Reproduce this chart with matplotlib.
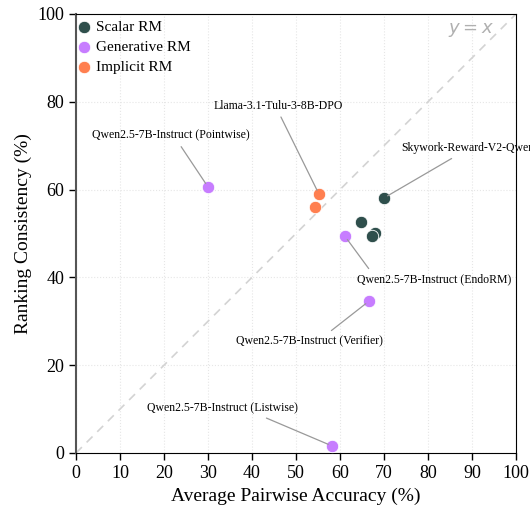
import matplotlib.pyplot as plt
import matplotlib

plt.rcParams['font.family'] = ['Liberation Serif', 'DejaVu Serif']
plt.rcParams['mathtext.fontset'] = 'dejavusans'

# data: (accuracy, consistency)
scalar_x = [70.0, 64.8, 68.0, 67.2]
scalar_y = [58.1, 52.6, 50.1, 49.4]
gen_x = [30.0, 61.1, 66.6, 58.2]
gen_y = [60.6, 49.4, 34.6, 1.6]
impl_x = [55.2, 54.3]
impl_y = [59.0, 56.0]

# labelled points: name, point, text position, alignment, where the leader leaves the text
labels = [
    ("Qwen2.5-7B-Instruct (Pointwise)", (30.0, 60.6), (21.5, 72.3), "center", 0.52),
    ("Llama-3.1-Tulu-3-8B-DPO", (55.2, 59.0), (45.9, 79.1), "center", 0.48),
    ("Skywork-Reward-V2-Qwen3-8B", (70.0, 58.1), (74.0, 69.4), "left", 0.43),
    ("Qwen2.5-7B-Instruct (EndoRM)", (61.1, 49.4), (63.8, 39.5), "left", 0.13),
    ("Qwen2.5-7B-Instruct (Verifier)", (66.6, 34.6), (53.0, 25.5), "center", 0.56),
    ("Qwen2.5-7B-Instruct (Listwise)", (58.2, 1.6), (33.2, 10.2), "center", 0.64),
]

c_scalar = '#2f4f4c'
c_gen = '#c77dff'
c_impl = '#ff7f50'

fig = plt.figure(figsize=(5.3, 5.14), dpi=100)
ax = fig.add_axes([0.1434, 0.1187, 0.8302, 0.8541])

ax.plot([0, 100], [0, 100], ls=(0, (5, 4)), color='#d3d3d3', lw=1.2, zorder=1)
ax.text(95, 98.3, '$y = x$', color='#b0b0b0', fontsize=13, ha='right', va='top')

ax.scatter(scalar_x, scalar_y, s=80, color=c_scalar, edgecolor='white', linewidth=0.6, label='Scalar RM', zorder=3)
ax.scatter(gen_x, gen_y, s=80, color=c_gen, edgecolor='white', linewidth=0.6, label='Generative RM', zorder=3)
ax.scatter(impl_x, impl_y, s=80, color=c_impl, edgecolor='white', linewidth=0.6, label='Implicit RM', zorder=3)

for name, pt, txt, ha, rx in labels:
    ax.annotate(name, xy=pt, xytext=txt, ha=ha, va='center', fontsize=8.5,
                annotation_clip=False,
                arrowprops=dict(arrowstyle='-', color='#999999', lw=0.9,
                                relpos=(rx, 0.5), shrinkA=2, shrinkB=3))

ax.set_xlim(0, 100)
ax.set_ylim(0, 100)
ax.set_xticks(range(0, 101, 10))
ax.set_yticks(range(0, 101, 20))
ax.tick_params(labelsize=13, length=5, width=1)
ax.grid(True, ls=':', color='#e6e6e6', lw=0.8)
ax.set_axisbelow(True)
ax.spines['left'].set_color('#555555')
ax.spines['left'].set_linewidth(1.5)

ax.set_xlabel('Average Pairwise Accuracy (%)', fontsize=14)
ax.set_ylabel('Ranking Consistency (%)', fontsize=14)

ax.legend(loc='upper left', bbox_to_anchor=(0.0, 0.995), frameon=False,
          fontsize=11, handlelength=0.6, handletextpad=0.45,
          borderaxespad=0.0, labelspacing=0.42, borderpad=0.25,
          markerscale=1.0)

plt.savefig('out.png', dpi=100)
plt.close()
